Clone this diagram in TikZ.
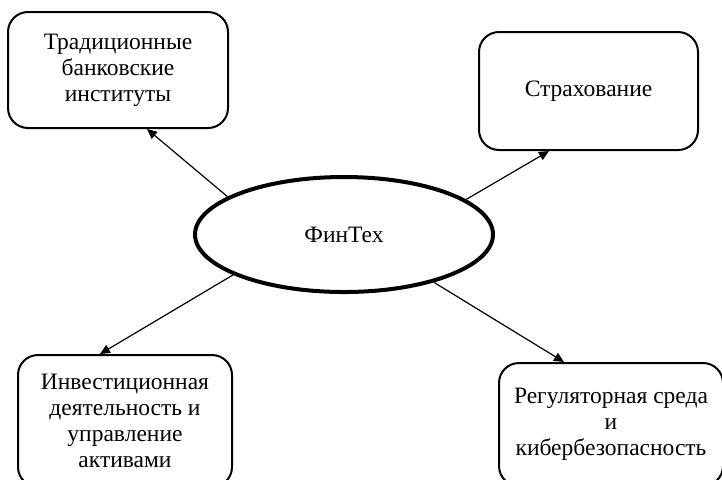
\documentclass[tikz,border=0pt]{standalone}
\usepackage{fontspec}
\setmainfont{Liberation Serif}
\usetikzlibrary{arrows.meta,shapes.geometric}

\begin{document}
\begin{tikzpicture}[x=0.5pt,y=-0.5pt,>={Triangle[width=4.5pt,length=5pt]}]
\tikzset{
    box/.style={%
        draw=black, line width=1pt,
        rectangle,
        rounded corners=10pt,
        align=center,
        inner sep=2pt,
        font=\fontsize{11.75}{13}\selectfont
        },
    hub/.style={%
        draw=black, line width=2pt,
        ellipse,
        inner sep=0pt,
        minimum width=149pt,
        minimum height=57.5pt,
        font=\fontsize{11.75}{13}\selectfont
        },
    link/.style={->, line width=0.6pt},
}
\useasboundingbox (0,0) rectangle (722,479);
%%%CENTRE
\node[hub] (fintech) at (344,234.5) {ФинТех};
%%%BOXES
\node[box, minimum width=110pt, minimum height=58pt] (bank) at (118,70) {Традиционные\\банковские\\институты};
\node[box, minimum width=109.5pt, minimum height=59pt] (insur) at (588.5,91) {Страхование};
\node[box, minimum width=107pt, minimum height=66pt] (invest) at (125,421) {Инвестиционная\\деятельность и\\управление\\активами};
\node[box, minimum width=112pt, minimum height=61.5pt] (reg) at (611,424.5) {Регуляторная среда\\и\\кибербезопасность};
%%%ARROWS
\draw[link] (fintech.162) -- ([xshift=14.5pt]bank.south);
\draw[link] (fintech.16) -- ([xshift=-19.75pt]insur.south);
\draw[link] (fintech.200) -- ([xshift=-12.5pt]invest.north);
\draw[link] (fintech.332) -- ([xshift=-23.5pt]reg.north);
\end{tikzpicture}
\end{document}
